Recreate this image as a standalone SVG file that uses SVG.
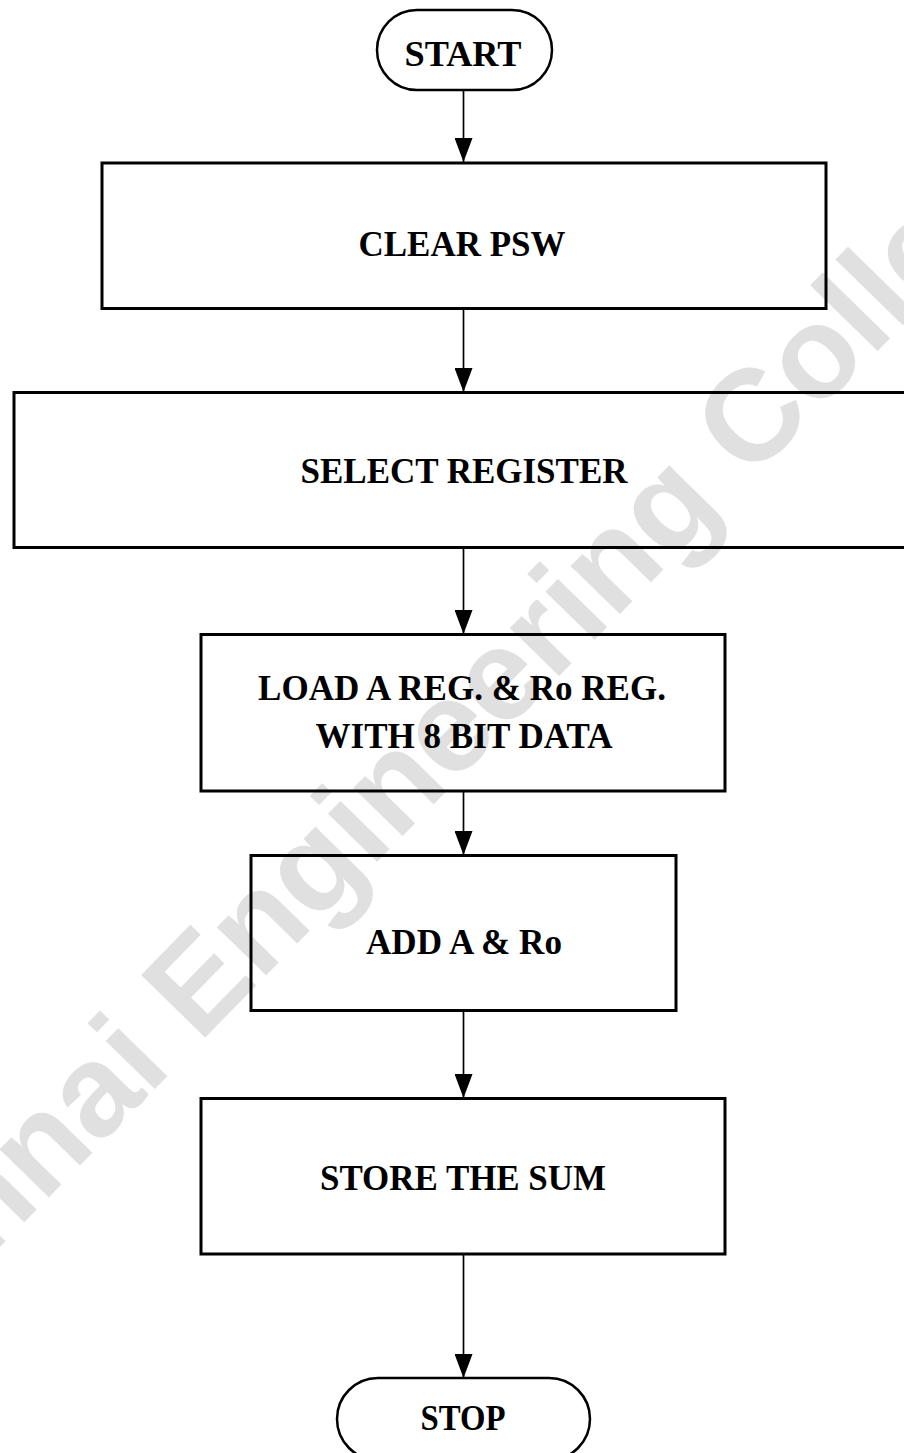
<svg xmlns="http://www.w3.org/2000/svg" width="904" height="1453" viewBox="0 0 904 1453">
<style>
.box{fill:none;stroke:#000;stroke-width:3}
.term{fill:none;stroke:#000;stroke-width:2.5}
.lbl{font-family:"Liberation Serif","Times New Roman",serif;font-weight:bold;font-size:35px;fill:#000;text-anchor:middle}
.conn{stroke:#000;stroke-width:1.7;fill:none}
.wm{font-family:"Liberation Sans",Arial,sans-serif;font-weight:bold;font-size:130px;fill:#e0e0e0}
</style>
<defs>
<marker id="ah" markerWidth="24" markerHeight="18" refX="24" refY="9" orient="auto" markerUnits="userSpaceOnUse" viewBox="0 0 24 18">
<path d="M0,0 L24,9 L0,18 Z" fill="#000"/>
</marker>
</defs>
<rect width="904" height="1453" fill="#fff"/>
<text class="wm" x="-185" y="1436" transform="rotate(-45.6 -185 1436)">Chennai Engineering College</text>
<g id="connectors">
<line class="conn" x1="463.5" y1="90" x2="463.5" y2="162" marker-end="url(#ah)"/>
<line class="conn" x1="463.5" y1="309" x2="463.5" y2="392" marker-end="url(#ah)"/>
<line class="conn" x1="463.5" y1="548" x2="463.5" y2="634" marker-end="url(#ah)"/>
<line class="conn" x1="463.5" y1="791" x2="463.5" y2="855" marker-end="url(#ah)"/>
<line class="conn" x1="463.5" y1="1011" x2="463.5" y2="1098" marker-end="url(#ah)"/>
<line class="conn" x1="463.5" y1="1254" x2="463.5" y2="1378" marker-end="url(#ah)"/>
</g>
<g id="start">
<rect class="term" x="377" y="10" width="175" height="80" rx="40" ry="40"/>
<text class="lbl" x="463" y="66" textLength="117" lengthAdjust="spacingAndGlyphs">START</text>
</g>
<g id="clear">
<rect class="box" x="102" y="163" width="724" height="145.5"/>
<text class="lbl" x="462" y="256" textLength="207" lengthAdjust="spacingAndGlyphs">CLEAR PSW</text>
</g>
<g id="select">
<rect class="box" x="14" y="392.5" width="900" height="155"/>
<text class="lbl" x="464" y="483" textLength="327" lengthAdjust="spacingAndGlyphs">SELECT REGISTER</text>
</g>
<g id="load">
<rect class="box" x="201" y="634.5" width="524" height="156.5"/>
<text class="lbl" x="462" y="700" textLength="408" lengthAdjust="spacingAndGlyphs">LOAD A REG. &amp; Ro REG.</text>
<text class="lbl" x="464" y="748" textLength="297" lengthAdjust="spacingAndGlyphs">WITH 8 BIT DATA</text>
</g>
<g id="add">
<rect class="box" x="251" y="855.5" width="425" height="155"/>
<text class="lbl" x="464" y="954" textLength="196" lengthAdjust="spacingAndGlyphs">ADD A &amp; Ro</text>
</g>
<g id="store">
<rect class="box" x="201" y="1098.5" width="524" height="155.5"/>
<text class="lbl" x="463" y="1190" textLength="286" lengthAdjust="spacingAndGlyphs">STORE THE SUM</text>
</g>
<g id="stop">
<rect class="term" x="337" y="1378" width="253" height="82" rx="41" ry="41"/>
<text class="lbl" x="463" y="1430" textLength="85" lengthAdjust="spacingAndGlyphs">STOP</text>
</g>
</svg>
